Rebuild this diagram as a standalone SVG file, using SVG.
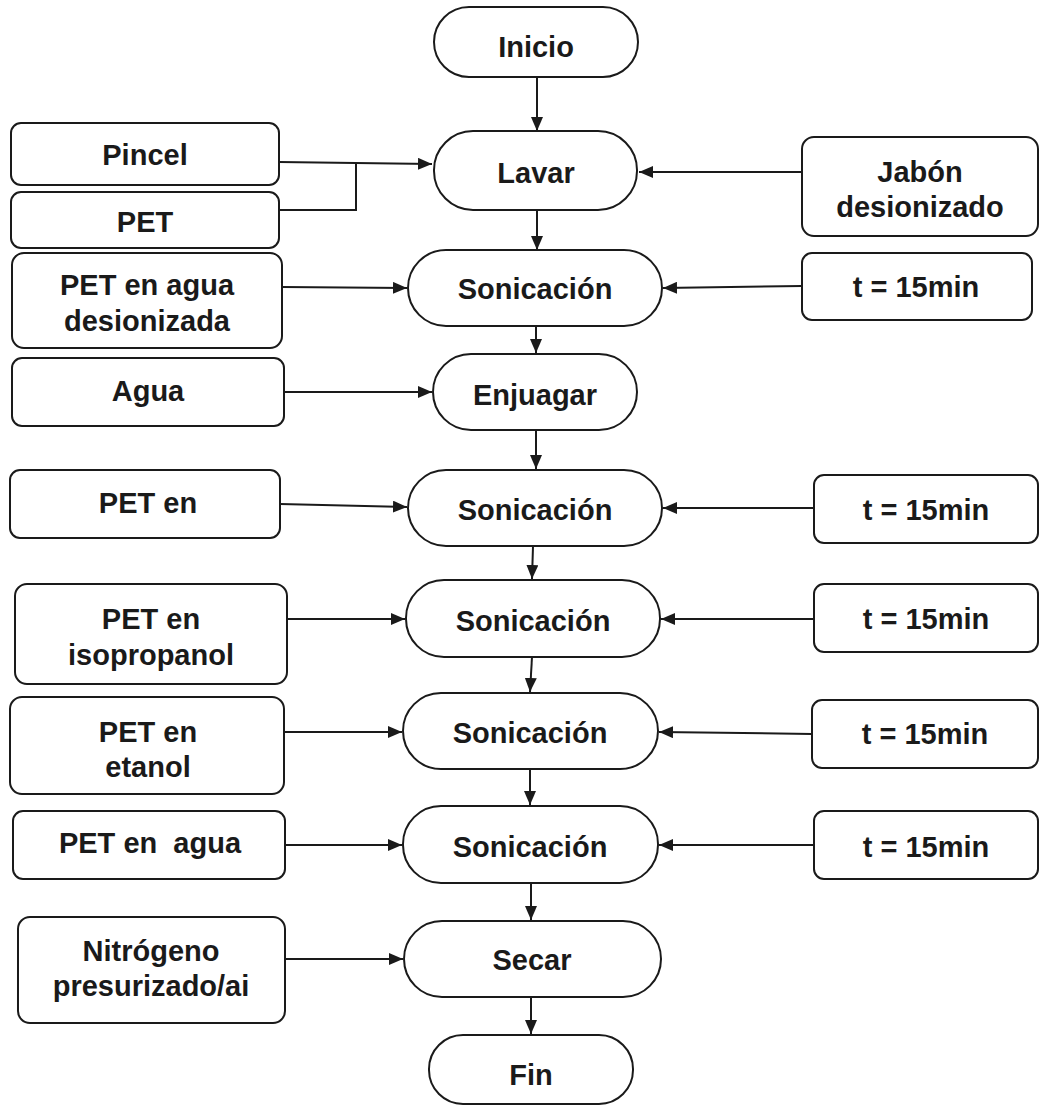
<svg xmlns="http://www.w3.org/2000/svg" width="1040" height="1110" viewBox="0 0 1040 1110">
  <style>
    .box { fill: #ffffff; stroke: #1a1a1a; stroke-width: 2; }
    .step { fill: #ffffff; stroke: #1a1a1a; stroke-width: 2; }
    .lbl { font-family: "Liberation Sans", Arial, sans-serif; font-weight: bold; font-size: 29px; fill: #1a1a1a; text-anchor: middle; white-space: pre; }
    .wire { fill: none; stroke: #1a1a1a; stroke-width: 2; }
    .arrow { marker-end: url(#head); }
  </style>
  <defs>
    <marker id="head" viewBox="0 0 14 12" refX="14" refY="6" markerWidth="14" markerHeight="12" markerUnits="userSpaceOnUse" orient="auto">
      <path d="M0,0 L14,6 L0,12 Z" fill="#1a1a1a"/>
    </marker>
  </defs>
  <rect width="1040" height="1110" fill="#ffffff"/>

  <!-- connectors -->
  <g id="connectors">
    <!-- main flow -->
    <path class="wire arrow" d="M537,77 L537,131"/>
    <path class="wire arrow" d="M537,210 L537,250"/>
    <path class="wire arrow" d="M536,326 L536,353"/>
    <path class="wire arrow" d="M536,430 L536,469"/>
    <path class="wire arrow" d="M533,546 L532,579"/>
    <path class="wire arrow" d="M532,657 L530,692"/>
    <path class="wire arrow" d="M530,769 L530,805"/>
    <path class="wire arrow" d="M531,883 L531,920"/>
    <path class="wire arrow" d="M531,997 L531,1034"/>
    <!-- inputs from the left -->
    <path class="wire arrow" d="M279,162 L432,164"/>
    <path class="wire" d="M279,210 L356,210 L356,163"/>
    <path class="wire arrow" d="M282,287 L407,288"/>
    <path class="wire arrow" d="M284,392 L432,392"/>
    <path class="wire arrow" d="M280,504 L407,507"/>
    <path class="wire arrow" d="M287,619 L405,619"/>
    <path class="wire arrow" d="M284,732 L402,732"/>
    <path class="wire arrow" d="M285,845 L402,845"/>
    <path class="wire arrow" d="M285,959 L403,959"/>
    <!-- parameters from the right -->
    <path class="wire arrow" d="M802,172 L639,172"/>
    <path class="wire arrow" d="M802,286 L663,288"/>
    <path class="wire arrow" d="M814,508 L663,508"/>
    <path class="wire arrow" d="M814,619 L661,619"/>
    <path class="wire arrow" d="M812,734 L659,732"/>
    <path class="wire arrow" d="M814,845 L659,845"/>
  </g>

  <!-- process steps -->
  <g id="inicio">
    <rect class="step" x="434" y="7" width="204" height="70" rx="35"/>
    <text class="lbl" x="536" y="57">Inicio</text>
  </g>
  <g id="lavar">
    <rect class="step" x="434" y="131" width="203" height="79" rx="39"/>
    <text class="lbl" x="536" y="183">Lavar</text>
  </g>
  <g id="sonicacion1">
    <rect class="step" x="408" y="250" width="254" height="76" rx="38"/>
    <text class="lbl" x="535" y="299">Sonicación</text>
  </g>
  <g id="enjuagar">
    <rect class="step" x="433" y="354" width="204" height="76" rx="38"/>
    <text class="lbl" x="535" y="405">Enjuagar</text>
  </g>
  <g id="sonicacion2">
    <rect class="step" x="408" y="470" width="254" height="76" rx="38"/>
    <text class="lbl" x="535" y="520">Sonicación</text>
  </g>
  <g id="sonicacion3">
    <rect class="step" x="406" y="580" width="254" height="77" rx="38"/>
    <text class="lbl" x="533" y="631">Sonicación</text>
  </g>
  <g id="sonicacion4">
    <rect class="step" x="403" y="693" width="255" height="76" rx="38"/>
    <text class="lbl" x="530" y="743">Sonicación</text>
  </g>
  <g id="sonicacion5">
    <rect class="step" x="403" y="806" width="255" height="77" rx="38"/>
    <text class="lbl" x="530" y="857">Sonicación</text>
  </g>
  <g id="secar">
    <rect class="step" x="404" y="921" width="257" height="76" rx="38"/>
    <text class="lbl" x="532" y="970">Secar</text>
  </g>
  <g id="fin">
    <rect class="step" x="429" y="1035" width="204" height="69" rx="34"/>
    <text class="lbl" x="531" y="1085">Fin</text>
  </g>

  <!-- inputs -->
  <g id="pincel">
    <rect class="box" x="11" y="123" width="268" height="62" rx="10"/>
    <text class="lbl" x="145" y="165">Pincel</text>
  </g>
  <g id="pet">
    <rect class="box" x="11" y="192" width="268" height="56" rx="10"/>
    <text class="lbl" x="145" y="232">PET</text>
  </g>
  <g id="pet-agua-desionizada">
    <rect class="box" x="12" y="253" width="270" height="95" rx="12"/>
    <text class="lbl" x="147" y="295">PET en agua</text>
    <text class="lbl" x="147" y="331">desionizada</text>
  </g>
  <g id="agua">
    <rect class="box" x="12" y="358" width="272" height="68" rx="10"/>
    <text class="lbl" x="148" y="401">Agua</text>
  </g>
  <g id="pet-en">
    <rect class="box" x="10" y="470" width="270" height="68" rx="10"/>
    <text class="lbl" x="148" y="513">PET en</text>
  </g>
  <g id="pet-isopropanol">
    <rect class="box" x="15" y="584" width="272" height="100" rx="12"/>
    <text class="lbl" x="151" y="629">PET en</text>
    <text class="lbl" x="151" y="665">isopropanol</text>
  </g>
  <g id="pet-etanol">
    <rect class="box" x="10" y="697" width="274" height="97" rx="12"/>
    <text class="lbl" x="148" y="742">PET en</text>
    <text class="lbl" x="148" y="777">etanol</text>
  </g>
  <g id="pet-agua">
    <rect class="box" x="13" y="811" width="272" height="68" rx="10"/>
    <text class="lbl" x="150" y="853">PET en  agua</text>
  </g>
  <g id="nitrogeno">
    <rect class="box" x="18" y="917" width="267" height="106" rx="12"/>
    <text class="lbl" x="151" y="961">Nitrógeno</text>
    <text class="lbl" x="151" y="996">presurizado/ai</text>
  </g>

  <!-- parameters -->
  <g id="jabon">
    <rect class="box" x="802" y="137" width="236" height="99" rx="12"/>
    <text class="lbl" x="920" y="182">Jabón</text>
    <text class="lbl" x="920" y="217">desionizado</text>
  </g>
  <g id="tiempo1">
    <rect class="box" x="802" y="253" width="230" height="67" rx="10"/>
    <text class="lbl" x="916" y="297">t = 15min</text>
  </g>
  <g id="tiempo2">
    <rect class="box" x="814" y="475" width="224" height="68" rx="10"/>
    <text class="lbl" x="926" y="520">t = 15min</text>
  </g>
  <g id="tiempo3">
    <rect class="box" x="814" y="584" width="224" height="68" rx="10"/>
    <text class="lbl" x="926" y="629">t = 15min</text>
  </g>
  <g id="tiempo4">
    <rect class="box" x="812" y="700" width="226" height="68" rx="10"/>
    <text class="lbl" x="925" y="744">t = 15min</text>
  </g>
  <g id="tiempo5">
    <rect class="box" x="814" y="811" width="224" height="68" rx="10"/>
    <text class="lbl" x="926" y="857">t = 15min</text>
  </g>
</svg>
